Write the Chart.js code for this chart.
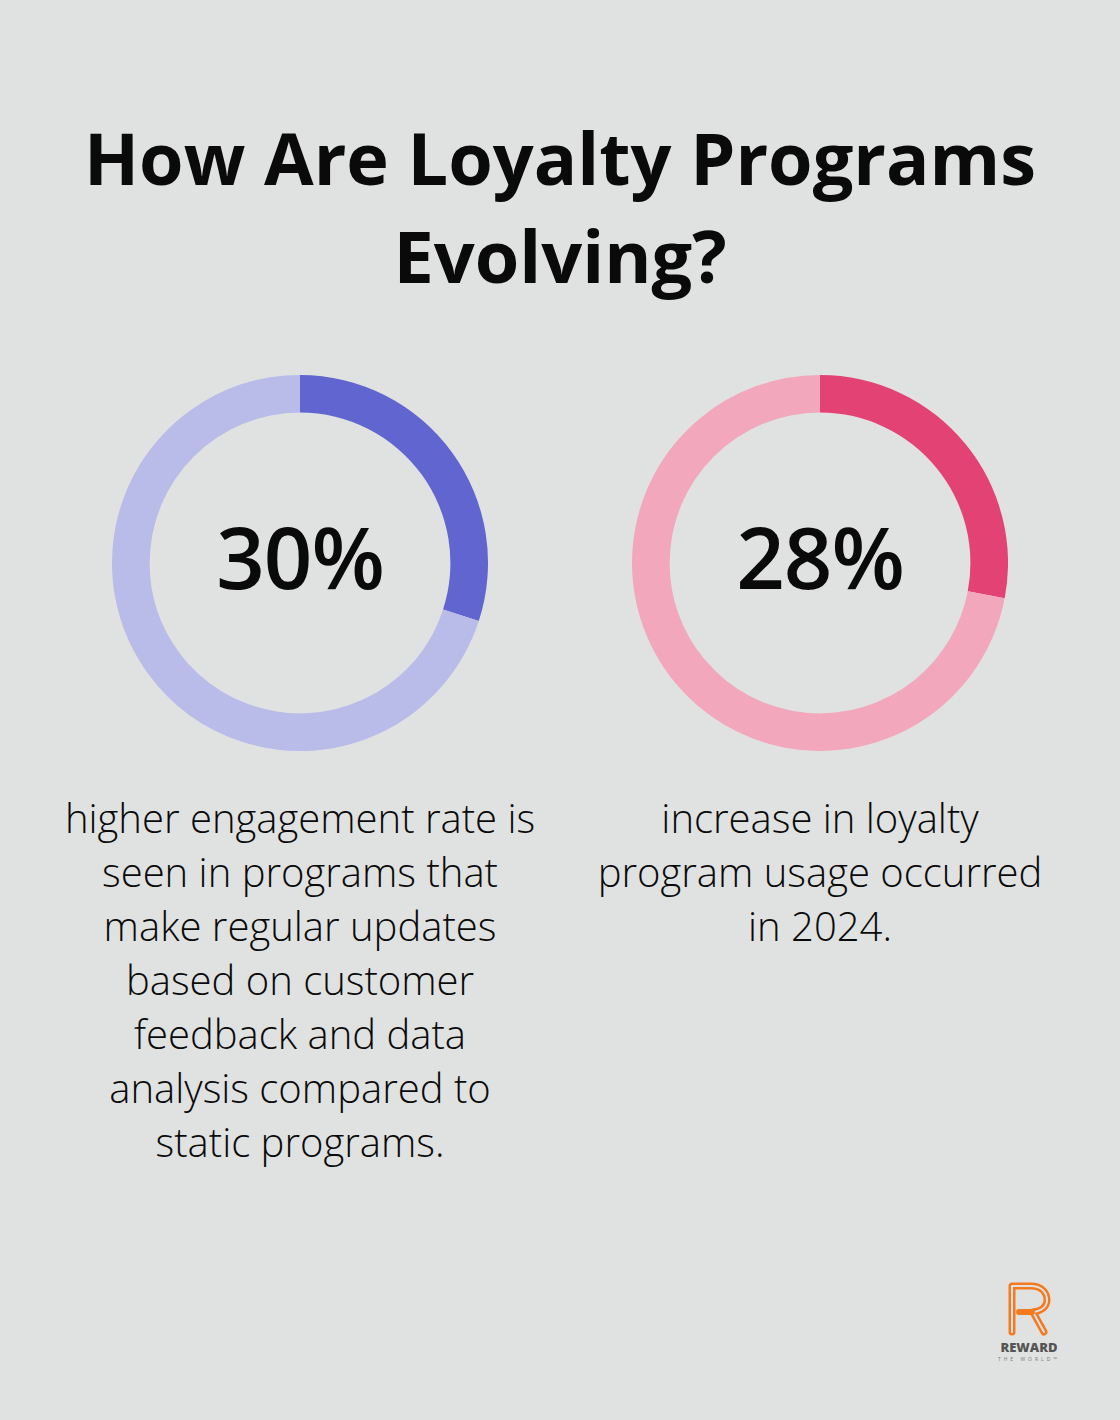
<!DOCTYPE html>
<html>
<head>
<meta charset="utf-8">
<script src="https://cdn.jsdelivr.net/npm/chart.js@4"></script>
<style>
  html, body { margin: 0; padding: 0; }
  body {
    width: 1120px; height: 1420px; background: #e0e2e1;
    font-family: "Open Sans", sans-serif; color: #0a0a0a;
    position: relative; overflow: hidden;
  }
  h1 {
    position: absolute; left: 0; top: 108px; width: 1120px; margin: 0;
    text-align: center; font-size: 72px; font-weight: 700; line-height: 98px;
  }
  .ring { position: absolute; top: 375px; width: 376px; height: 376px; }
  .ring canvas { position: absolute; left: 0; top: 0; }
  .value {
    position: absolute; left: 0; top: -7px; width: 376px; height: 376px;
    display: flex; align-items: center; justify-content: center;
    font-size: 85px; font-weight: 600; letter-spacing: -1px;
  }
  .desc {
    position: absolute; top: 791px; width: 476px; text-align: center;
    font-size: 40px; font-weight: 300; line-height: 54px;
  }
  .logo { position: absolute; left: 990px; top: 1282px; width: 78px; text-align: center; }
  .logo svg { display: block; margin: 0 auto; }
  .logo .brand { font-size: 13px; font-weight: 800; color: #555; line-height: 13px; margin-top: 5px; }
  .logo .sub { font-size: 5px; color: #777; letter-spacing: 3px; line-height: 6px; margin-top: 2px; }
</style>
</head>
<body>
<h1 id="title"></h1>
<div class="ring" id="ring0" style="left:112px"><canvas id="chart0" width="376" height="376"></canvas><div class="value" id="value0"></div></div>
<div class="ring" id="ring1" style="left:632px"><canvas id="chart1" width="376" height="376"></canvas><div class="value" id="value1"></div></div>
<div class="desc" id="desc0" style="left:62px"></div>
<div class="desc" id="desc1" style="left:582px"></div>
<div class="logo">
  <svg width="46" height="54" viewBox="0 0 46 54">
    <path d="M6 50 V4 H25 C35 4 41 10 41 18 C41 25 35 29 27 30 L38 50" fill="none" stroke="#f47a20" stroke-width="7" stroke-linejoin="round" stroke-linecap="round"/>
    <path d="M6 50 V4 H25 C35 4 41 10 41 18 C41 25 35 29 27 30 L38 50" fill="none" stroke="#e0e2e1" stroke-width="2" stroke-linejoin="round" stroke-linecap="round"/>
    <path d="M13 30 H26" fill="none" stroke="#f47a20" stroke-width="6" stroke-linecap="round"/>
  </svg>
  <div class="brand">REWARD</div>
  <div class="sub">THE WORLD™</div>
</div>
<script>
// Datos del gráfico
const percentValues = [30, 28];
const valueLabels = ["30%", "28%"];
const descriptions = [
    "higher engagement rate is seen in programs that make regular updates based on customer feedback and data analysis compared to static programs.",
    "increase in loyalty program usage occurred in 2024."
];
const mainColors = ["#6065cf", "#e34274"];
const restColors = ["#b9bbe9", "#f2a7bd"];

document.getElementById("title").innerHTML = "How Are Loyalty Programs<br>Evolving?";

// Dibujar cada anillo
const drawRing = (i) => {
    const ctx = document.getElementById("chart" + i).getContext("2d");
    return new Chart(ctx, {
        type: "doughnut",
        data: {
            labels: ["value", "rest"],
            datasets: [{
                data: [percentValues[i], 100 - percentValues[i]],
                backgroundColor: [mainColors[i], restColors[i]],
                borderWidth: 0,
            }],
        },
        options: {
            responsive: false,
            animation: false,
            cutout: "80%",
            layout: { padding: 0 },
            plugins: { legend: { display: false }, tooltip: { enabled: false } },
        },
    });
};

percentValues.forEach((v, i) => {
    drawRing(i);
    document.getElementById("value" + i).innerText = valueLabels[i];
    document.getElementById("desc" + i).innerText = descriptions[i];
});
</script>
</body>
</html>
